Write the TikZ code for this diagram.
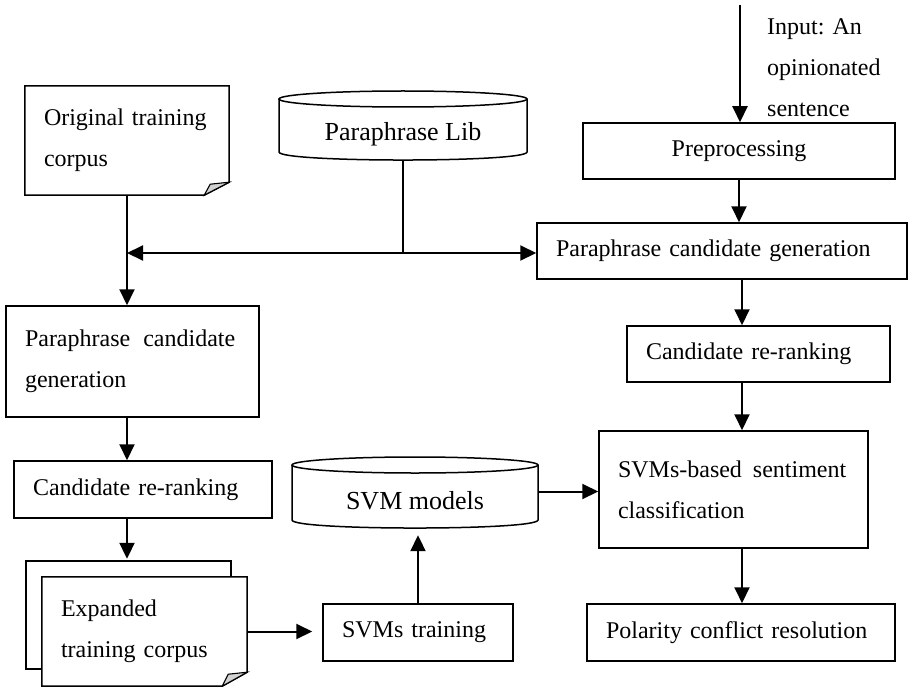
\documentclass[tikz,border=0pt]{standalone}
\usepackage{fontspec}
\setmainfont{Liberation Serif}
\usetikzlibrary{arrows.meta,backgrounds}
\tikzset{
  txt/.style={font=\fontsize{24}{41}\selectfont},
  bigtxt/.style={font=\fontsize{26}{30}\selectfont},
  bx/.style n args={3}{rectangle, draw, line width=1.5pt, inner xsep=19pt, inner ysep=0pt,
     align=left, txt, minimum width=#1, minimum height=#2, text width=#3},
  docnode/.style n args={3}{rectangle, inner xsep=19pt, inner ysep=0pt,
     align=left, txt, minimum width=#1, minimum height=#2, text width=#3},
  cylnode/.style n args={2}{rectangle, inner sep=0pt, bigtxt, minimum width=#1, minimum height=#2},
  arr/.style={line width=2pt, -{Triangle[length=16pt,width=15pt]}},
  thinln/.style={line width=1.5pt},
  shp/.style={line width=1.5pt},
  fold/.style={line width=1.1pt, fill=gray!35},
}
\begin{document}
\begin{tikzpicture}[x=1pt,y=-1pt]
\useasboundingbox (0,0) rectangle (909,687);

% ---------- left column ----------
\node[docnode={204pt}{109pt}{166pt}] (orig) at (127,140.5) {Original training\\corpus};
\node[bx={253pt}{111pt}{215pt}] (paraL) at (132.5,361.5) {Paraphrase\hspace{13pt}candidate\\generation};
\node[bx={258pt}{57pt}{220pt}] (candL) at (143,489.5) {Candidate re-ranking};
\node[docnode={205pt}{108pt}{167pt}] (expb) at (128.5,615) {};
\node[docnode={205pt}{109pt}{167pt}] (exp) at (144.5,631.5) {Expanded\\training corpus};
\node[bx={190pt}{57pt}{152pt}] (svmt) at (418,632.5) {SVMs training};

% ---------- cylinders ----------
\node[cylnode={248pt}{52pt}] (lib) at (403,134) {Paraphrase Lib};
\node[cylnode={246pt}{54pt}] (svmm) at (415,501) {SVM models};

% ---------- right column ----------
\node[bx={312pt}{56pt}{274pt}, align=center] (pre) at (739,151) {Preprocessing};
\node[bx={370pt}{56pt}{332pt}] (paraR) at (722,251) {Paraphrase candidate generation};
\node[bx={263pt}{56pt}{225pt}] (candR) at (758.5,354) {Candidate re-ranking};
\node[bx={269pt}{117pt}{231pt}] (svmc) at (733.5,489.5) {SVMs-based\hspace{11pt}sentiment\\classification};
\node[bx={308pt}{57pt}{270pt}] (pol) at (741,632.5) {Polarity conflict resolution};

\node[txt, anchor=north west, align=left, inner sep=0pt] (inlbl) at (767,18) {Input: An\\opinionated\\sentence};

% ---------- shapes on background ----------
\begin{scope}[on background layer]
  % original corpus document
  \draw[shp, fill=white] (orig.north west) -- (orig.north east) -- ([yshift=13pt]orig.south east)
       -- ([xshift=-25pt]orig.south east) -- (orig.south west) -- cycle;
  \draw[fold] ([yshift=13pt]orig.south east) -- ([xshift=-19pt,yshift=11pt]orig.south east)
       -- ([xshift=-25pt]orig.south east) -- cycle;
  % expanded corpus: back sheet
  \draw[shp, fill=white] (expb.north west) rectangle (expb.south east);
  % expanded corpus: front sheet
  \draw[shp, fill=white] (exp.north west) -- (exp.north east) -- ([yshift=14pt]exp.south east)
       -- ([xshift=-25pt]exp.south east) -- (exp.south west) -- cycle;
  \draw[fold] ([yshift=14pt]exp.south east) -- ([xshift=-19pt,yshift=12pt]exp.south east)
       -- ([xshift=-25pt]exp.south east) -- cycle;
  % Paraphrase Lib cylinder
  \draw[shp] (279,99) -- (279,152) .. controls (279,162.7) and (527,162.7) .. (527,152) -- (527,99);
  \draw[shp] (403,99) ellipse [x radius=124pt, y radius=8pt];
  % SVM models cylinder
  \draw[shp] (292,465) -- (292,520) .. controls (292,530.7) and (538,530.7) .. (538,520) -- (538,465);
  \draw[shp] (415,465) ellipse [x radius=123pt, y radius=8pt];
\end{scope}

% ---------- connectors ----------
\coordinate (j) at (403,253);
\coordinate (intop) at (740,5);
\coordinate (col) at (742,0);

\draw[arr] (orig.south) -- (orig.south |- paraL.north);
\draw[thinln] (lib.south) -- (j);
\draw[arr] (j) -- (orig.south |- j);
\draw[arr] (j) -- (j -| paraR.west);
\draw[arr] (orig.south |- paraL.south) -- (orig.south |- candL.north);
\draw[arr] (orig.south |- candL.south) -- ([yshift=2pt]orig.south |- expb.north);
\draw[arr, shorten >=10pt] (exp.east) -- (exp.east -| svmt.west);
\draw[arr, shorten >=7pt] (svmt.north) -- (svmt.north |- svmm.south);
\draw[arr] ([yshift=-2pt]svmc.west -| svmm.east) -- ([yshift=-2pt]svmc.west);

\draw[arr] (intop) -- (intop |- pre.north);
\draw[arr] (pre.south) -- (pre.south |- paraR.north);
\draw[arr] (col |- paraR.south) -- (col |- candR.north);
\draw[arr] (col |- candR.south) -- (col |- svmc.north);
\draw[arr] (col |- svmc.south) -- (col |- pol.north);
\end{tikzpicture}
\end{document}
